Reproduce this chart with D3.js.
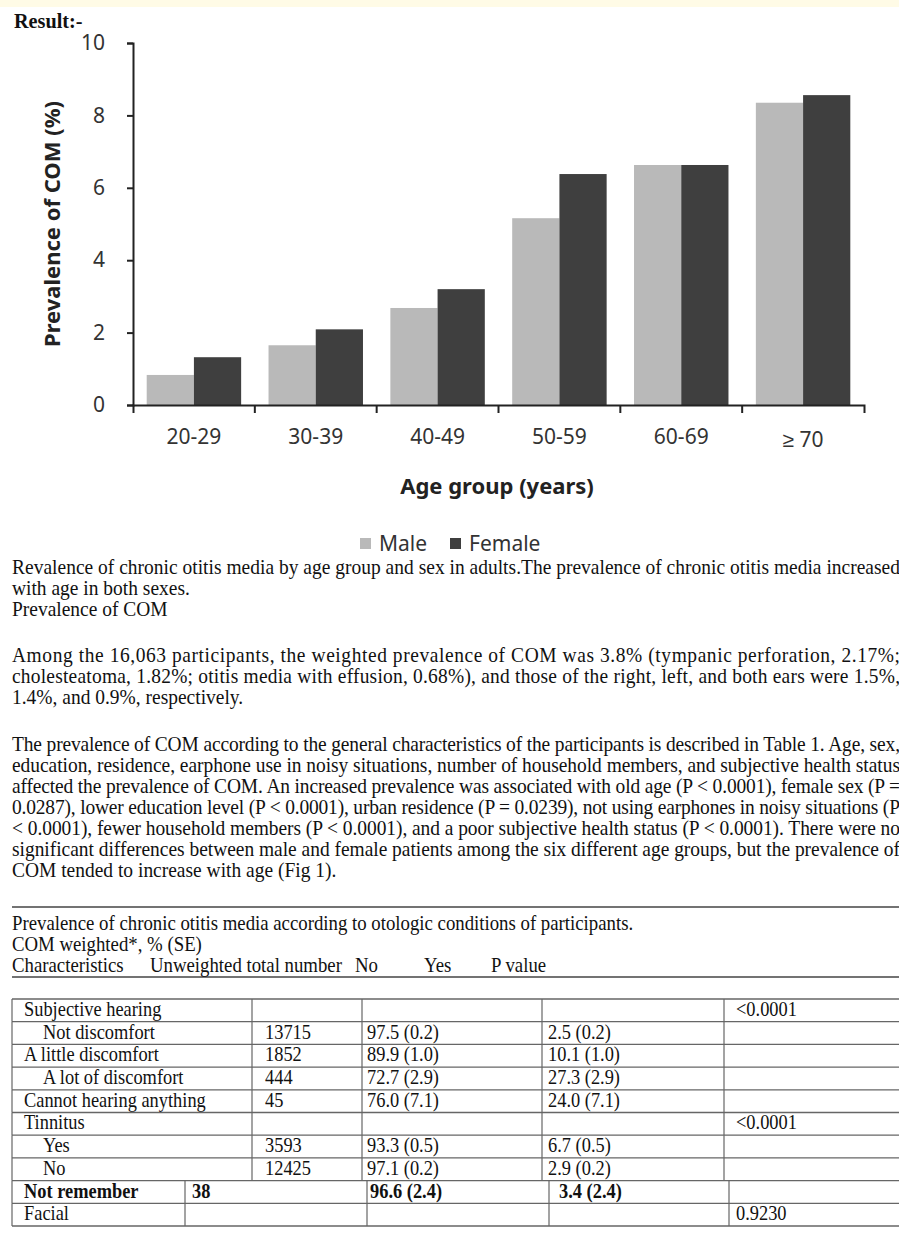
<!DOCTYPE html>
<html lang="en">
<head>
<meta charset="UTF-8">
<title>Prevalence of COM by age group and sex</title>
<script src="https://d3js.org/d3.v7.min.js"></script>
<style>
  body { margin: 0; background: #fff; }
  .axis path, .axis line { stroke: #222; stroke-width: 2; }
  .axis text { font-family: "Noto Sans", sans-serif; font-size: 21px; fill: #333; }
  .serif { font-family: "Liberation Serif", "Times New Roman", serif; font-size: 20px; fill: #111; }
  .body { font-size: 20.5px; }
</style>
</head>
<body>
<div id="chart"></div>
<script>
// chart data
const ages = ["20-29", "30-39", "40-49", "50-59", "60-69", "\u2265 70"];
const series = ["Male", "Female"];
const maleValues = [0.83, 1.65, 2.68, 5.16, 6.63, 8.35];
const femaleValues = [1.32, 2.09, 3.20, 6.38, 6.63, 8.56];
const yTicks = [0, 2, 4, 6, 8, 10];
const colors = {Male: "#b9b9b9", Female: "#3f3f3f"};

// text around the chart
const captionLines = [
  "Revalence of chronic otitis media by age group and sex in adults.The prevalence of chronic otitis media increased",
  "with age in both sexes.",
  "Prevalence of COM"
];
const para1 = [
  "Among the 16,063 participants, the weighted prevalence of COM was 3.8% (tympanic perforation, 2.17%;",
  "cholesteatoma, 1.82%; otitis media with effusion, 0.68%), and those of the right, left, and both ears were 1.5%,",
  "1.4%, and 0.9%, respectively."
];
const para2 = [
  "The prevalence of COM according to the general characteristics of the participants is described in Table 1. Age, sex,",
  "education, residence, earphone use in noisy situations, number of household members, and subjective health status",
  "affected the prevalence of COM. An increased prevalence was associated with old age (P < 0.0001), female sex (P =",
  "0.0287), lower education level (P < 0.0001), urban residence (P = 0.0239), not using earphones in noisy situations (P",
  "< 0.0001), fewer household members (P < 0.0001), and a poor subjective health status (P < 0.0001). There were no",
  "significant differences between male and female patients among the six different age groups, but the prevalence of",
  "COM tended to increase with age (Fig 1)."
];

// table data
const tableTitle = "Prevalence of chronic otitis media according to otologic conditions of participants.";
const tableSub = "COM weighted*, % (SE)";
const tableHeader = ["Characteristics", "Unweighted total number", "No", "Yes", "P value"];
const rowLabels = ["Subjective hearing", "Not discomfort", "A little discomfort", "A lot of discomfort",
  "Cannot hearing anything", "Tinnitus", "Yes", "No", "Not remember", "Facial"];
const rowTotals = ["", "13715", "1852", "444", "45", "", "3593", "12425", "38", ""];
const rowNo = ["", "97.5 (0.2)", "89.9 (1.0)", "72.7 (2.9)", "76.0 (7.1)", "", "93.3 (0.5)", "97.1 (0.2)", "96.6 (2.4)", ""];
const rowYes = ["", "2.5 (0.2)", "10.1 (1.0)", "27.3 (2.9)", "24.0 (7.1)", "", "6.7 (0.5)", "2.9 (0.2)", "3.4 (2.4)", ""];
const rowP = ["<0.0001", "", "", "", "", "<0.0001", "", "", "", "0.9230"];
const indented = ["Not discomfort", "A lot of discomfort", "Yes", "No"];
const boldRows = ["Not remember"];

const W = 899, H = 1233;
const SX = 0.92;      // horizontal squeeze of the table text
const SX_HEAD = 0.94; // table heading lines
const SX_BODY = 0.95; // paragraphs

const svg = d3.select("#chart").append("svg")
  .attr("width", W)
  .attr("height", H);

svg.append("rect").attr("width", W).attr("height", H).attr("fill", "#fff");
svg.append("rect").attr("width", W).attr("height", 7).attr("fill", "#fffbe6");

// serif text, slightly condensed like the scanned page
function serif(parent, x, y, str, sx = SX) {
  return parent.append("text")
    .attr("class", "serif")
    .attr("transform", `scale(${sx},1)`)
    .attr("x", x / sx)
    .attr("y", y)
    .text(str);
}

serif(svg, 14, 28, "Result:-")
  .style("font-size", "22px")
  .style("font-weight", "bold");

// ---- bar chart ----
const x = d3.scaleBand().domain(ages).range([133, 864]).padding(0);
const xs = d3.scaleBand().domain(series).range([0, x.bandwidth()]).paddingOuter(0.29).paddingInner(0);
const y = d3.scaleLinear().domain([0, 10]).range([405, 43]);

const groups = svg.append("g").selectAll("g")
  .data(ages)
  .join("g")
  .attr("transform", d => `translate(${x(d)},0)`);

groups.selectAll("rect")
  .data((d, i) => [{s: "Male", v: maleValues[i]}, {s: "Female", v: femaleValues[i]}])
  .join("rect")
  .attr("x", d => xs(d.s))
  .attr("width", xs.bandwidth())
  .attr("y", d => y(d.v))
  .attr("height", d => y(0) - y(d.v))
  .attr("fill", d => colors[d.s]);

// y axis
svg.append("g")
  .attr("class", "axis")
  .attr("transform", "translate(133,0)")
  .call(d3.axisLeft(y).tickValues(yTicks).tickSize(6).tickSizeOuter(6).tickPadding(22));

// x axis: labels centred, ticks on band edges
const xAxis = svg.append("g")
  .attr("class", "axis")
  .attr("transform", "translate(0,405)")
  .call(d3.axisBottom(x).tickSize(0).tickSizeOuter(8).tickPadding(24));

xAxis.selectAll(".edge")
  .data(ages.slice(1))
  .join("line")
  .attr("class", "edge")
  .attr("x1", d => x(d)).attr("x2", d => x(d))
  .attr("y1", 0).attr("y2", 8);

xAxis.selectAll(".tick text")
  .filter(d => d === ages[ages.length - 1])
  .attr("dy", "0.85em");

svg.append("text")
  .attr("transform", "translate(60,224) rotate(-90)")
  .attr("text-anchor", "middle")
  .style("font-family", "'Noto Sans', sans-serif")
  .style("font-size", "22px")
  .style("font-weight", "bold")
  .attr("fill", "#222")
  .text("Prevalence of COM (%)");

svg.append("text")
  .attr("x", 497).attr("y", 494)
  .attr("text-anchor", "middle")
  .style("font-family", "'Noto Sans', sans-serif")
  .style("font-size", "22px")
  .style("font-weight", "bold")
  .attr("fill", "#222")
  .text("Age group (years)");

// legend
const legend = svg.append("g").attr("transform", "translate(360,551)");
const legendX = [0, 90];
series.forEach((s, i) => {
  legend.append("rect")
    .attr("x", legendX[i]).attr("y", -13)
    .attr("width", 11).attr("height", 11)
    .attr("fill", colors[s]);
  legend.append("text")
    .attr("x", legendX[i] + 19).attr("y", 0)
    .style("font-family", "'Noto Sans', sans-serif")
    .style("font-size", "21px")
    .attr("fill", "#333")
    .text(s);
});

// ---- paragraphs ----
function writeLines(lines, top, nJustified) {
  lines.forEach((line, i) => {
    const t = serif(svg, 12, top + i * 21, line, SX_BODY).classed("body", true);
    if (i < nJustified) {
      t.attr("textLength", 888 / SX_BODY).attr("lengthAdjust", "spacing");
    }
  });
}
writeLines(captionLines, 574, 1);
writeLines(para1, 662, para1.length - 1);
writeLines(para2, 751, para2.length - 1);

// ---- table ----
svg.append("line").attr("x1", 12).attr("x2", W).attr("y1", 907).attr("y2", 907)
  .attr("stroke", "#444").attr("stroke-width", 1.6);
svg.append("line").attr("x1", 12).attr("x2", W).attr("y1", 977).attr("y2", 977)
  .attr("stroke", "#444").attr("stroke-width", 1.6);

serif(svg, 12, 930, tableTitle, SX_HEAD);
serif(svg, 12, 951, tableSub, SX_HEAD);
const headerX = [12, 150, 355, 424, 491];
tableHeader.forEach((h, i) => serif(svg, headerX[i], 972, h, SX_HEAD));

const tableTop = 999, rowH = 22.7;
const gridA = [12, 252, 362, 542, 724];   // columns for upper rows
const gridB = [12, 185, 367, 549, 729];   // columns for the last two rows
const padA = [12, 13, 5, 6, 12];
const padB = [12, 7, 3, 10, 7];

const rows = rowLabels.map((label, i) => [label, rowTotals[i], rowNo[i], rowYes[i], rowP[i]]);
const table = svg.append("g");

rows.forEach((cells, r) => {
  const top = tableTop + r * rowH;
  const grid = r >= 8 ? gridB : gridA;
  const pad = r >= 8 ? padB : padA;
  table.append("line").attr("x1", 12).attr("x2", W).attr("y1", top).attr("y2", top)
    .attr("stroke", "#666").attr("stroke-width", 1.3);
  grid.forEach(gx => {
    table.append("line").attr("x1", gx).attr("x2", gx).attr("y1", top).attr("y2", top + rowH)
      .attr("stroke", "#666").attr("stroke-width", 1.2);
  });
  cells.forEach((c, ci) => {
    if (!c) return;
    let tx = grid[ci] + pad[ci];
    if (ci === 0 && indented.includes(c)) tx = 43;
    serif(table, tx, top + 17, c)
      .style("font-weight", boldRows.includes(cells[0]) ? "bold" : "normal");
  });
});
table.append("line").attr("x1", 12).attr("x2", W)
  .attr("y1", tableTop + rows.length * rowH).attr("y2", tableTop + rows.length * rowH)
  .attr("stroke", "#666").attr("stroke-width", 1.3);
</script>
</body>
</html>
